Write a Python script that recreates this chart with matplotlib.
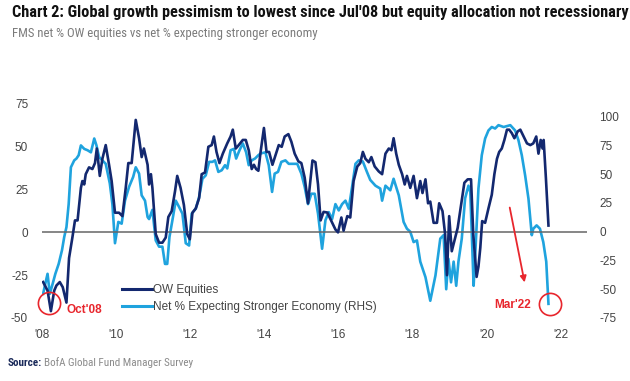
import numpy as np
import matplotlib
matplotlib.use("Agg")
import matplotlib.pyplot as plt
from matplotlib import font_manager

# FMS net % overweight equities (left axis), decimal years
ow_t = [2008.58, 2008.70, 2008.79, 2008.88, 2008.94, 2009.03, 2009.11, 2009.21, 2009.28, 2009.37,
        2009.44, 2009.51, 2009.60, 2009.64, 2009.69, 2009.73, 2009.82, 2009.91, 2009.98, 2010.03,
        2010.11, 2010.18, 2010.27, 2010.36, 2010.43, 2010.52, 2010.63, 2010.72, 2010.81, 2010.88,
        2010.97, 2011.08, 2011.17, 2011.24, 2011.30, 2011.40, 2011.44, 2011.49, 2011.53, 2011.62,
        2011.71, 2011.80, 2011.89, 2011.96, 2012.05, 2012.14, 2012.20, 2012.29, 2012.38, 2012.47,
        2012.54, 2012.61, 2012.70, 2012.79, 2012.86, 2012.95, 2013.04, 2013.13, 2013.19, 2013.26,
        2013.34, 2013.43, 2013.55, 2013.64, 2013.70, 2013.78, 2013.86, 2013.97, 2014.05, 2014.13,
        2014.21, 2014.27, 2014.33, 2014.39, 2014.45, 2014.54, 2014.61, 2014.68, 2014.77, 2014.85,
        2014.94, 2015.02, 2015.10, 2015.20, 2015.28, 2015.37, 2015.47, 2015.55, 2015.64, 2015.73,
        2015.85, 2015.93, 2016.00, 2016.07, 2016.15, 2016.25, 2016.34, 2016.47, 2016.54, 2016.63,
        2016.69, 2016.79, 2016.87, 2016.96, 2017.06, 2017.14, 2017.21, 2017.28, 2017.37, 2017.44,
        2017.53, 2017.64, 2017.73, 2017.82, 2017.91, 2017.98, 2018.04, 2018.11, 2018.18, 2018.27,
        2018.34, 2018.40, 2018.49, 2018.58, 2018.67, 2018.76, 2018.82, 2018.90, 2018.97, 2019.03,
        2019.12, 2019.21, 2019.27, 2019.36, 2019.43, 2019.48, 2019.54, 2019.61, 2019.68, 2019.77,
        2019.86, 2019.95, 2020.04, 2020.13, 2020.19, 2020.28, 2020.33, 2020.38, 2020.43, 2020.51,
        2020.60, 2020.69, 2020.76, 2020.83, 2020.89, 2020.96, 2021.03, 2021.10, 2021.16, 2021.23,
        2021.30, 2021.39, 2021.46, 2021.55, 2021.64, 2021.73, 2021.81, 2021.89, 2021.95, 2022.01,
        2022.06, 2022.09, 2022.15, 2022.22]
ow_v = [-29, -34, -46, -34, -31, -29, -32, -41, -15, -3,
        7, 7, 26, 30, 28, 34, 38, 37, 40.5, 49,
        33, 43, 51, 39.5, 30, 11.5, 11.5, 9.5, 26, 40.5,
        40.5, 65.7, 55, 44, 49, 39.5, 28, 34, 26, -1,
        -6, -6, -3, 9, 12.4, 24, 33, 26, 16, -1,
        -4, 11.5, 14, 20, 34, 35, 50, 51, 56, 47,
        40.5, 46, 52, 56, 60, 49, 51, 54, 54, 48,
        37, 39.5, 37, 36, 47, 61, 47, 47, 39.5, 45,
        51, 50, 56, 57.4, 53, 46, 41.5, 40.5, 32, 17,
        42, 41, 28, 7, 12, 11.6, 7.5, 1.7, 0, 8.7,
        1, 9.5, 8.7, 30, 38.5, 40.5, 47, 43, 41, 44,
        38.5, 35.6, 34, 46, 49, 48, 55, 46, 39.5, 34,
        28, 33, 26, 33, 20, 30, 23, 31, 17, 18,
        5.6, 5.6, 17, 12.4, -1, -25, 9.5, -11, -5, 2.7,
        16, 29, 31, 31, -1, -26, -20, -9, 6.6, 5.6,
        14, 22, 34, 43, 47, 49, 54, 60, 60, 58,
        55, 59, 60, 56, 52, 51, 52, 56, 46, 54,
        49, 54, 32, 4]

# net % expecting stronger economy (right axis)
econ_t = [2008.58, 2008.64, 2008.70, 2008.76, 2008.84, 2008.91, 2009.00, 2009.09, 2009.15, 2009.21,
          2009.27, 2009.33, 2009.42, 2009.48, 2009.54, 2009.60, 2009.69, 2009.78, 2009.87, 2009.96,
          2010.02, 2010.09, 2010.18, 2010.27, 2010.38, 2010.45, 2010.52, 2010.61, 2010.70, 2010.79,
          2010.90, 2011.01, 2011.08, 2011.17, 2011.24, 2011.33, 2011.40, 2011.44, 2011.53, 2011.62,
          2011.71, 2011.80, 2011.87, 2011.93, 2011.99, 2012.07, 2012.16, 2012.25, 2012.34, 2012.43,
          2012.52, 2012.59, 2012.70, 2012.79, 2012.88, 2012.97, 2013.06, 2013.15, 2013.22, 2013.31,
          2013.40, 2013.49, 2013.55, 2013.64, 2013.73, 2013.79, 2013.88, 2013.97, 2014.06, 2014.13,
          2014.21, 2014.30, 2014.39, 2014.45, 2014.58, 2014.67, 2014.76, 2014.83, 2014.92, 2015.01,
          2015.12, 2015.21, 2015.32, 2015.44, 2015.55, 2015.64, 2015.73, 2015.82, 2015.91, 2016.00,
          2016.11, 2016.20, 2016.29, 2016.38, 2016.47, 2016.56, 2016.65, 2016.74, 2016.83, 2016.92,
          2017.01, 2017.10, 2017.21, 2017.32, 2017.41, 2017.55, 2017.68, 2017.73, 2017.82, 2017.95,
          2018.04, 2018.18, 2018.31, 2018.40, 2018.49, 2018.58, 2018.67, 2018.76, 2018.90, 2019.03,
          2019.17, 2019.30, 2019.39, 2019.46, 2019.52, 2019.59, 2019.66, 2019.73, 2019.79, 2019.88,
          2019.97, 2020.06, 2020.11, 2020.20, 2020.24, 2020.33, 2020.42, 2020.51, 2020.60, 2020.69,
          2020.78, 2020.87, 2021.01, 2021.19, 2021.32, 2021.41, 2021.50, 2021.59, 2021.68, 2021.77,
          2021.81, 2021.90, 2021.99, 2022.08, 2022.16, 2022.22]
econ_v = [-54, -45, -36.6, -54, -45, -36.6, -28, -16, -4.6, 4,
          24, 56, 62, 63.6, 66.5, 75, 72, 70.8, 69, 81,
          75, 65, 62, 59, 42, 24, -10, 8.5, 7, 27,
          39, 47.6, 56, 50.5, 31.6, 27, 12.8, 11, 19, -7.6,
          -13, -13, -28, -28, -4.6, 10, 27, 21.5, 15.7, -10,
          -12, 15.7, 20, 30, 46, 49, 60.7, 60.7, 62, 52,
          53.4, 57.8, 55, 70.8, 72, 63.6, 70.8, 76.7, 69, 57.8,
          62, 63.6, 66.5, 68, 69, 57.8, 34.6, 50.5, 52, 60.7,
          62, 59, 59, 59, 50.5, 39, 24, 33, 33, 15.7,
          -14.8, 10, 17, 11, 24, 18.5, 24, 27, 20, 39,
          59, 62, 61, 52, 45, 40, 37.5, 27, 40, 36,
          46, 31.6, 8.5, 2.6, 0, -9, -7.6, -26, -39.5, -60,
          -38, -6, -3, -50, -23.5, -44, -26, -47, -26, -6,
          29, 40, 34.6, -47, -22, 37.5, 66.5, 81, 88, 91,
          89.7, 92.6, 91, 92.6, 88, 79.5, 66.5, 49, 28.7, -3,
          2.6, 5.5, 2.6, -9, -26, -62.7]

year_ticks = [2008, 2010, 2012, 2014, 2016, 2018, 2020, 2022]
left_ticks = [-50, -25, 0, 25, 50, 75]
right_ticks = [-75, -50, -25, 0, 25, 50, 75, 100]

title = "Chart 2: Global growth pessimism to lowest since Jul'08 but equity allocation not recessionary"
subtitle = "FMS net % OW equities vs net % expecting stronger economy"


def pick_font(weight):
    # prefer a condensed face for the header text
    cands = []
    for f in font_manager.fontManager.ttflist:
        fn = f.fname.lower()
        narrowish = ('condensed' in fn or 'narrow' in fn or f.stretch in ('condensed', 'semi-condensed'))
        if not narrowish or 'oblique' in fn or 'italic' in fn:
            continue
        is_bold = (f.weight in ('bold', 700) or (isinstance(f.weight, int) and f.weight >= 600))
        if is_bold != (weight == 'bold'):
            continue
        score = 0
        if 'roboto' in fn:
            score = 3
        elif 'liberation' in fn:
            score = 2
        elif 'opensans' in fn or 'open' in fn:
            score = 1
        cands.append((score, f.fname))
    if cands:
        cands.sort(reverse=True)
        return font_manager.FontProperties(fname=cands[0][1])
    return font_manager.FontProperties(family='Liberation Sans', weight=weight)


plt.rcParams['font.family'] = ['Liberation Sans', 'DejaVu Sans']
plt.rcParams['axes.unicode_minus'] = False

navy = '#13286f'
sky = '#1fa3de'
red = '#e8262d'
grey = '#444444'

fig = plt.figure(figsize=(6.3, 3.81), dpi=100)
ax = fig.add_axes([42/630, 1-318/381, 545/630, 214/381])
ax2 = ax.twinx()

ax.axhline(0, color='#666666', lw=1.1, zorder=1)
l1, = ax.plot(ow_t, ow_v, color=navy, lw=1.9, zorder=3, label='OW Equities')
l2, = ax2.plot(econ_t, econ_v, color=sky, lw=1.9, zorder=2,
               label='Net % Expecting Stronger Economy (RHS)')
ax.set_zorder(ax2.get_zorder() + 1)
ax.patch.set_visible(False)

ax.set_xlim(2008.57, 2023.26)
ax.set_ylim(-50, 75)
ax2.set_ylim(-75, 111)
ax.set_yticks(left_ticks)
ax2.set_yticks(right_ticks)
ax.set_xticks(np.array(year_ticks) + 0.55)
ax.set_xticklabels(["'" + str(y)[2:] for y in year_ticks])

for a in (ax, ax2):
    for s in a.spines.values():
        s.set_visible(False)
    a.tick_params(length=0, labelsize=8.5, colors=grey)
ax.tick_params(axis='y', pad=10)
ax2.tick_params(axis='y', pad=9)
ax.tick_params(axis='x', pad=8)

# annotations
ax.plot([2008.74], [-41.5], 'o', ms=16, mfc='none', mec=red, mew=1.2, zorder=5, clip_on=False)
ax.plot([2022.27], [-41.9], 'o', ms=16, mfc='none', mec=red, mew=1.2, zorder=5, clip_on=False)
ax.text(2009.22, -45.5, "Oct'08", color=red, fontsize=8.5, fontweight='bold', va='center', ha='left')
ax.text(2021.75, -42.5, "Mar'22", color=red, fontsize=8.5, fontweight='bold', va='center', ha='right')
ax.annotate('', xy=(2021.59, -30.8), xytext=(2021.16, 16.1),
            arrowprops=dict(arrowstyle='-|>', color=red, lw=1.3, mutation_scale=9))

leg = ax.legend([l1, l2], [l1.get_label(), l2.get_label()], loc='upper left',
                bbox_to_anchor=(122/630, 1-284/381), bbox_transform=fig.transFigure,
                frameon=False, fontsize=8.5, handlelength=2.5, handletextpad=0.15,
                borderpad=0, borderaxespad=0, labelspacing=0.45)
for t in leg.get_texts():
    t.set_color(grey)
for h in leg.get_lines():
    h.set_linewidth(2.2)

# titles, fit to measured widths
fig.canvas.draw()
r = fig.canvas.get_renderer()
fp_b = pick_font('bold')
fp_r = pick_font('normal')
tt = fig.text(12/630, 1-13/381, title, fontproperties=fp_b, color='#111111', va='center', ha='left')
tt.set_fontsize(11)
w = tt.get_window_extent(r).width
tt.set_fontsize(11 * 613 / w)
st = fig.text(12/630, 1-34/381, subtitle, fontproperties=fp_r, color='#7a7a7a', va='center', ha='left')
st.set_fontsize(9.5)
w = st.get_window_extent(r).width
st.set_fontsize(9.5 * 306 / w)

src1 = fig.text(8/630, 1-363/381, "Source:", fontproperties=fp_b, color='#1a2a5a',
                va='center', ha='left')
src1.set_fontsize(8)
x1 = src1.get_window_extent(r).x1
src2 = fig.text(x1/630 + 2/630, 1-363/381, "BofA Global Fund Manager Survey", fontproperties=fp_r,
                color='#8a8a8a', va='center', ha='left')
src2.set_fontsize(8)

fig.savefig('out.png', dpi=100)
